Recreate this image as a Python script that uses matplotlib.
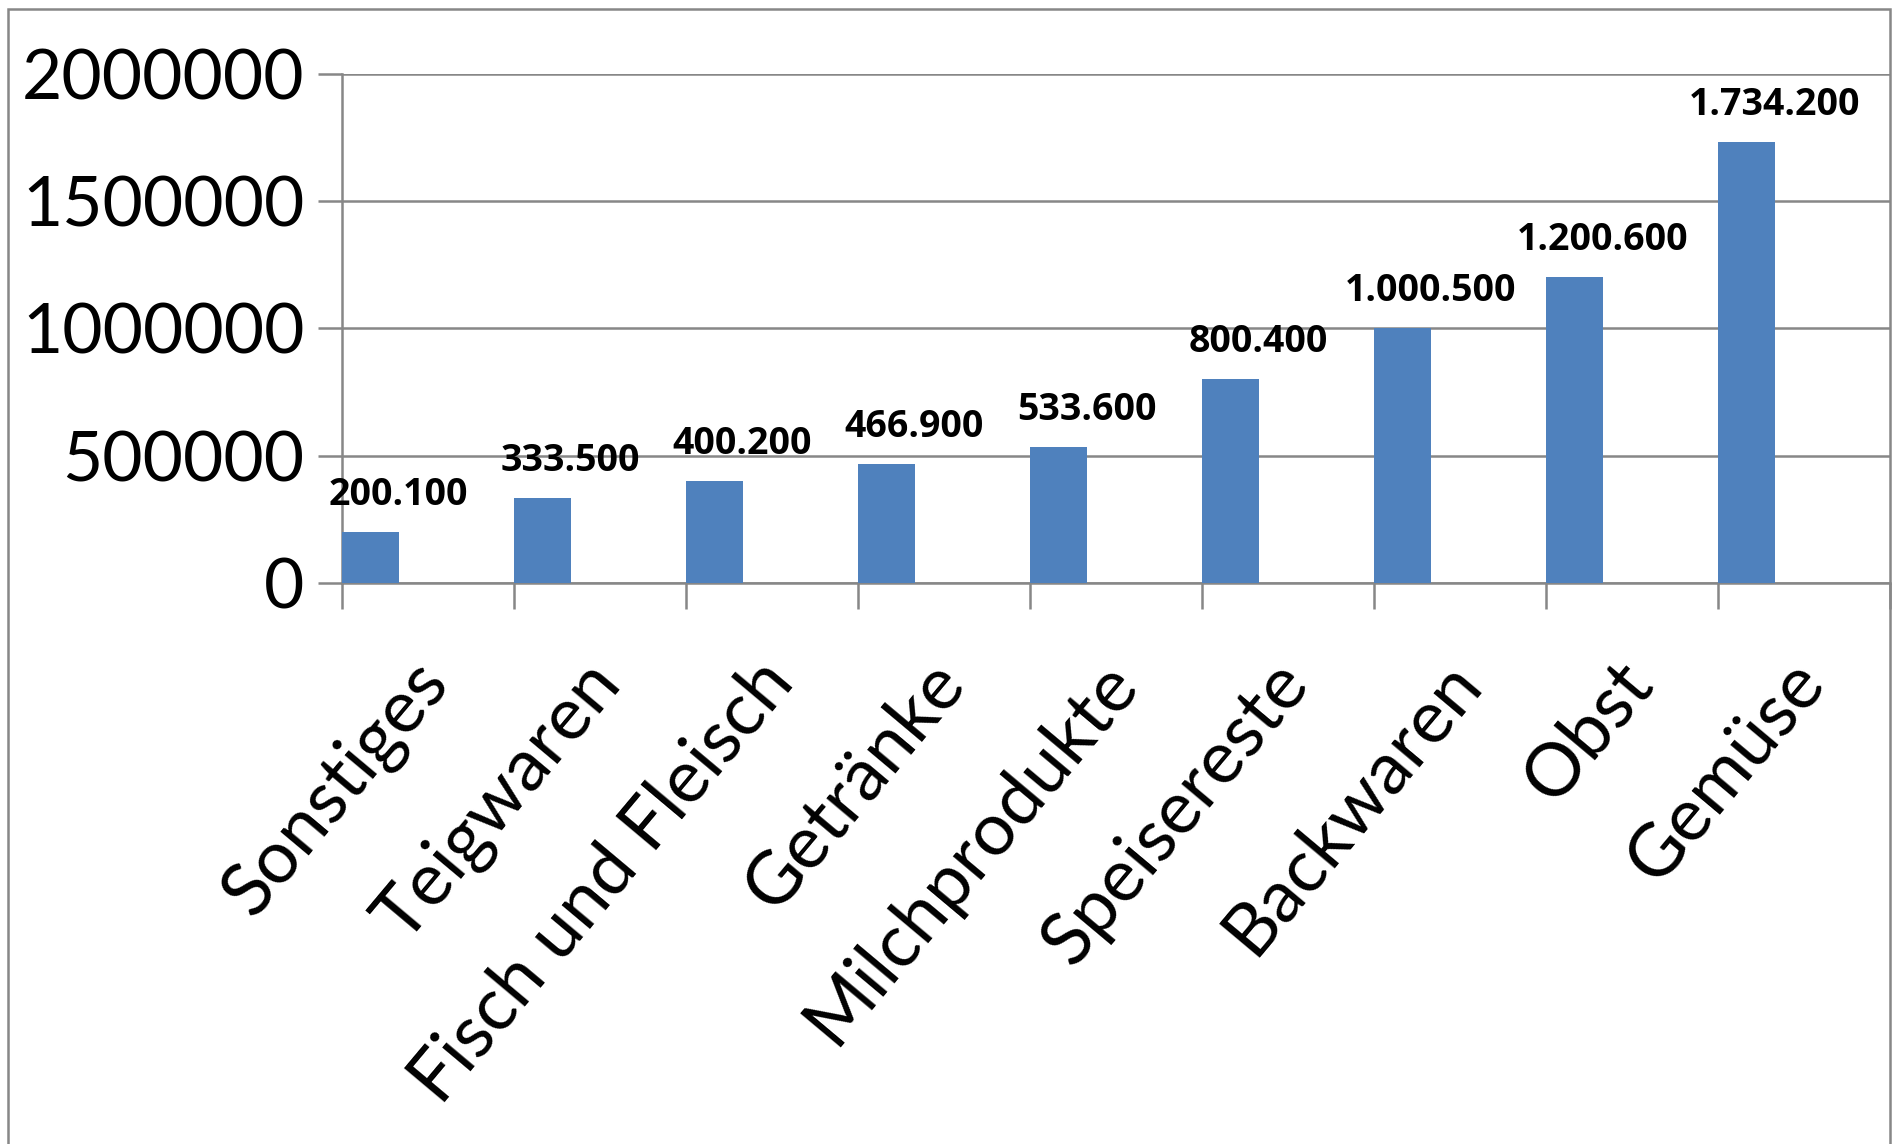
import numpy as np
import matplotlib.pyplot as plt
from matplotlib.patches import Rectangle

categories = ['Sonstiges', 'Teigwaren', 'Fisch und Fleisch', 'Getränke', 'Milchprodukte',
              'Speisereste', 'Backwaren', 'Obst', 'Gemüse']
values = [200100, 333500, 400200, 466900, 533600, 800400, 1000500, 1200600, 1734200]
value_labels = ['200.100', '333.500', '400.200', '466.900', '533.600',
                '800.400', '1.000.500', '1.200.600', '1.734.200']
y_ticks = [0, 500000, 1000000, 1500000, 2000000]

plt.rcParams['font.family'] = ['Lato', 'DejaVu Sans']

fig = plt.figure(figsize=(18.94, 11.44), dpi=100)
ax = fig.add_axes([0.1806, 0.4904, 0.998 - 0.1806, 0.9353 - 0.4904])

grey = '#878787'
x = np.arange(len(categories))
ax.bar(x, values, width=0.33, align='edge', color='#4F81BD', zorder=3)

for xi, v, lab in zip(x, values, value_labels):
    ax.annotate(lab, (xi + 0.165, v), xytext=(28, 18), textcoords='offset pixels',
                ha='center', va='bottom', fontsize=27, fontweight='bold',
                family=['Open Sans', 'DejaVu Sans'], zorder=4)

# category labels, rotated, below the axis
for xi, cat in zip(x, categories):
    ax.annotate(cat, (xi + 0.5, 0), xycoords=('data', 'axes fraction'),
                xytext=(-18, -66), textcoords='offset pixels',
                rotation=50, ha='right', va='top', rotation_mode='anchor',
                fontsize=53, annotation_clip=False)

ax.set_xlim(0, len(categories))
ax.set_ylim(0, 2000000)
ax.set_yticks(y_ticks)
ax.set_yticklabels([str(t) for t in y_ticks])
ax.set_xticks(np.arange(len(categories) + 1))
ax.set_xticklabels([])
ax.tick_params(axis='x', length=19, width=1.8, color=grey)
ax.tick_params(axis='y', length=17, width=1.8, color=grey, labelsize=50, pad=10)

ax.grid(axis='y', color=grey, linewidth=1.8, zorder=0)
for s in ['top', 'right']:
    ax.spines[s].set_visible(False)
for s in ['left', 'bottom']:
    ax.spines[s].set_color(grey)
    ax.spines[s].set_linewidth(1.8)

# chart area border
fig.patches.append(Rectangle((0.004, -0.1), 0.994, 1.092, transform=fig.transFigure,
                             fill=False, edgecolor=grey, linewidth=1.8))

plt.savefig('out.png', dpi=100)
